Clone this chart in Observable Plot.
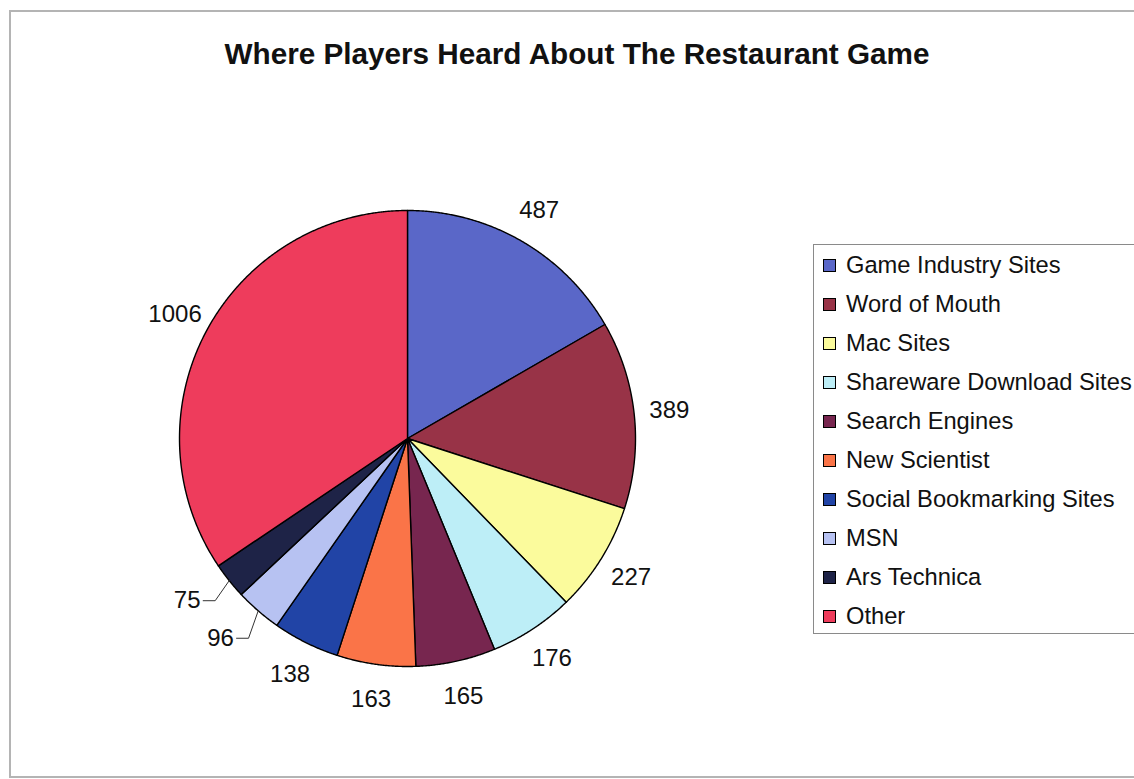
<!DOCTYPE html>
<html>
<head>
<meta charset="utf-8">
<script src="https://cdn.jsdelivr.net/npm/d3@7"></script>
<script src="https://cdn.jsdelivr.net/npm/@observablehq/plot@0.6"></script>
<style>
  html, body { margin: 0; padding: 0; background: #fff; }
  body { width: 1134px; height: 779px; position: relative; overflow: hidden; font-family: "Liberation Sans", Arial, sans-serif; }
  #frame { position: absolute; left: 9px; top: 10px; width: 1140px; height: 768px; border: 2px solid #b4b4b4; box-sizing: border-box; }
  #title { position: absolute; left: 0; width: 1154px; top: 36px; text-align: center; font-weight: bold; font-size: 29.7px; color: #111; line-height: 35px; }
  #chart { position: absolute; left: 0; top: 0; }
  #legend { position: absolute; left: 813px; top: 244px; width: 340px; height: 390px; border: 1px solid #8a8a8a; box-sizing: border-box; background: #fff; }
  .item { position: absolute; left: 0; height: 39px; display: flex; align-items: center; font-size: 23.7px; color: #111; white-space: nowrap; }
  .sw { width: 11px; height: 11px; border: 1px solid #000; margin-left: 9px; margin-right: 10px; }
</style>
</head>
<body>
<div id="frame"></div>
<div id="title">Where Players Heard About The Restaurant Game</div>
<div id="chart"></div>
<div id="legend"></div>
<script>
const categories = ["Game Industry Sites", "Word of Mouth", "Mac Sites", "Shareware Download Sites", "Search Engines", "New Scientist", "Social Bookmarking Sites", "MSN", "Ars Technica", "Other"];
const values = [487, 389, 227, 176, 165, 163, 138, 96, 75, 1006];
const colors = ["#5a67c8", "#983347", "#fbfb9c", "#bdeef7", "#77264f", "#fa7448", "#2144a6", "#b7c2f2", "#1e2347", "#ee3c5c"];

// layout (pixels)
const W = 800, H = 779, CX = 407, CY = 438, R = 228;

const arcs = d3.pie().sort(null).value(d => d)(values);

// slice polygons
const slicePts = [];
arcs.forEach((a, i) => {
  const name = categories[i];
  slicePts.push({name, x: 0, y: 0});
  const n = Math.max(2, Math.ceil((a.endAngle - a.startAngle) / 0.005));
  for (let k = 0; k <= n; k++) {
    const t = a.startAngle + (a.endAngle - a.startAngle) * k / n;
    slicePts.push({name, x: Math.sin(t), y: Math.cos(t)});
  }
  slicePts.push({name, x: 0, y: 0});
});

// labels
const labels = arcs.map((a, i) => {
  const mid = (a.startAngle + a.endAngle) / 2;
  const small = values[i] < 100;
  const ang = small ? mid + 2.2 * Math.PI / 180 : mid;
  const rr = small ? 1.2 : 1.155;
  return {v: values[i], mid, small, x: rr * Math.sin(ang), y: rr * Math.cos(ang)};
});

// leader lines for small slices
const leaders = [];
labels.filter(d => d.small).forEach(d => {
  const x0 = d.x + 16 / R, x1 = x0 + 12 / R;
  leaders.push({k: d.v, x: x0, y: d.y});
  leaders.push({k: d.v, x: x1, y: d.y});
  leaders.push({k: d.v, x: Math.sin(d.mid), y: Math.cos(d.mid)});
});

const chart = Plot.plot({
  width: W, height: H, margin: 0,
  style: {background: "transparent", fontFamily: "'Liberation Sans', Arial, sans-serif"},
  x: {domain: [-CX / R, (W - CX) / R], axis: null},
  y: {domain: [-(H - CY) / R, CY / R], axis: null},
  color: {domain: categories, range: colors},
  marks: [
    Plot.line(slicePts, {x: "x", y: "y", z: "name", fill: "name", stroke: "#000", strokeWidth: 1.4, strokeLinejoin: "round"}),
    Plot.line(leaders, {x: "x", y: "y", z: "k", stroke: "#333", strokeWidth: 1}),
    Plot.text(labels, {x: "x", y: "y", text: d => String(d.v), fontSize: 24, fill: "#111"})
  ]
});
document.getElementById("chart").appendChild(chart);

// legend
const lg = document.getElementById("legend");
categories.forEach((c, i) => {
  const it = document.createElement("div");
  it.className = "item";
  it.style.top = (1 + 39 * i) + "px";
  const sw = document.createElement("div");
  sw.className = "sw";
  sw.style.background = colors[i];
  const tx = document.createElement("span");
  tx.textContent = c;
  it.appendChild(sw); it.appendChild(tx);
  lg.appendChild(it);
});
</script>
</body>
</html>
